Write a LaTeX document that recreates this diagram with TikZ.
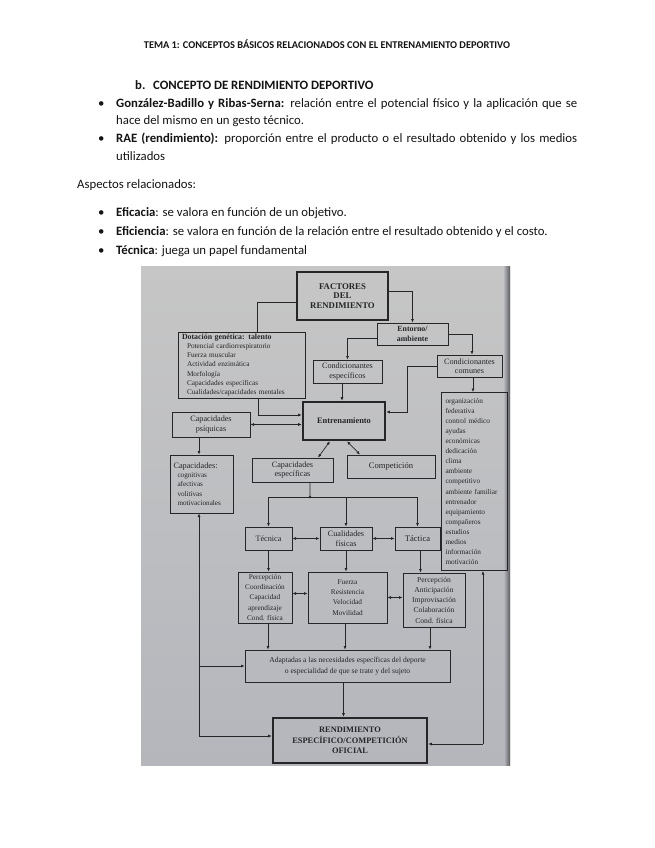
\documentclass[tikz,border=0pt]{standalone}
\usepackage{fontspec}
\setmainfont{Liberation Serif}
\newfontfamily\calfont{Carlito}
\usetikzlibrary{arrows.meta}
\definecolor{ink}{RGB}{38,38,40}
\definecolor{phtop}{RGB}{198,198,198}
\definecolor{phbot}{RGB}{180,182,188}
\definecolor{txt}{RGB}{20,20,20}
\newcommand\dgl{\fontsize{7.1}{9.5}\selectfont}
\newcommand\dgt{\fontsize{8.2}{9.6}\selectfont}
\newcommand\dgb{\fontsize{8.4}{9.4}\selectfont\bfseries}
\newcommand\bodyf{\calfont\fontsize{12.8}{18}\selectfont}
\newcommand\hdrf{\calfont\fontsize{10.4}{12}\selectfont\bfseries}
\begin{document}
\begin{tikzpicture}[x=1bp,y=-1bp,
  body/.style={font=\bodyf, text=txt, inner sep=0pt},
  bx/.style={draw=ink, line width=0.8bp, inner sep=1bp, align=center, text=ink, font=\dgt},
  thk/.style={bx, line width=2.4bp},
  ln/.style={draw=ink, line width=0.7bp},
  arr/.style={ln, -{Latex[length=3.6bp,width=3bp]}},
  darr/.style={ln, {Latex[length=3.6bp,width=3bp]}-{Latex[length=3.6bp,width=3bp]}}]
\useasboundingbox (0,0) rectangle (655,848);
\fill[white] (0,0) rectangle (655,848);

% ---------- text part ----------
\node[font=\hdrf, text=txt, inner sep=0pt, anchor=base] (hdr) at (327,48.4) {TEMA 1: CONCEPTOS BÁSICOS RELACIONADOS CON EL ENTRENAMIENTO DEPORTIVO};
\node[body, anchor=base west] (bb) at (135,89.2) {\textbf{b.}};
\node[body, anchor=base west] (bt) at (153,89.2) {\textbf{CONCEPTO DE RENDIMIENTO DEPORTIVO}};
\node[body, anchor=base west] (bu1) at (98,107.3) {•};
\node[body, anchor=base west] (l1) at (116,107.3) {\makebox[461bp][s]{\textbf{González-Badillo y Ribas-Serna:} relación entre el potencial físico y la aplicación que se}};
\node[body, anchor=base west] (l1b) at (116,124.5) {hace del mismo en un gesto técnico.};
\node[body, anchor=base west] (bu2) at (98,142.2) {•};
\node[body, anchor=base west] (l2) at (116,142.2) {\makebox[461bp][s]{\textbf{RAE (rendimiento):} proporción entre el producto o el resultado obtenido y los medios}};
\node[body, anchor=base west] (l2b) at (116,160.7) {utilizados};
\node[body, anchor=base west] (asp) at (77,188.8) {Aspectos relacionados:};
\node[body, anchor=base west] (bu3) at (98,216.8) {•};
\node[body, anchor=base west] (e1) at (116,216.8) {\textbf{Eficacia}: se valora en función de un objetivo.};
\node[body, anchor=base west] (bu4) at (98,235.5) {•};
\node[body, anchor=base west] (e2) at (116,235.5) {\textbf{Eficiencia}: se valora en función de la relación entre el resultado obtenido y el costo.};
\node[body, anchor=base west] (bu5) at (98,254.5) {•};
\node[body, anchor=base west] (e3) at (116,254.5) {\textbf{Técnica}: juega un papel fundamental};

% ---------- photo background ----------
\shade[top color=phtop, bottom color=phbot] (141,266) rectangle (510,765);
\shade[left color=phbot, right color=ink!75] (504,266) rectangle (510,765);

% ---------- boxes ----------
\node[thk, minimum width=91bp, minimum height=48bp, font=\fontsize{8.8}{9.6}\selectfont\bfseries] (fact) at (342.5,296) {FACTORES\\DEL\\RENDIMIENTO};
\node[bx, align=left, text width=119bp, inner xsep=4bp, minimum height=66bp, font=\fontsize{7.3}{9.3}\selectfont] (dot) at (241.5,365)
 {{\bfseries\fontsize{7.9}{9.3}\selectfont Dotación genética: talento}\\
  \hspace*{5bp}Potencial cardiorrespiratorio\\
  \hspace*{5bp}Fuerza muscular\\
  \hspace*{5bp}Actividad enzimática\\
  \hspace*{5bp}Morfología\\
  \hspace*{5bp}Capacidades específicas\\
  \hspace*{5bp}Cualidades/capacidades mentales};
\node[bx, minimum width=71bp, minimum height=22bp, font=\fontsize{7.9}{9.4}\selectfont\bfseries] (ent) at (412.5,334) {Entorno/\\ambiente};
\node[bx, minimum width=69bp, minimum height=23bp] (ce) at (347.5,371.5) {Condicionantes\\específicos};
\node[bx, minimum width=65bp, minimum height=22bp] (cc) at (469.5,366) {Condicionantes\\comunes};
\node[bx, align=left, text width=58bp, inner xsep=4bp, minimum height=178bp, font=\fontsize{7.3}{10.06}\selectfont] (list) at (474.5,481.5)
 {organización\\federativa\\control médico\\ayudas\\económicas\\dedicación\\clima\\ambiente\\competitivo\\ambiente familiar\\entrenador\\equipamiento\\compañeros\\estudios\\medios\\información\\motivación};
\node[thk, minimum width=82bp, minimum height=38bp, font=\dgb] (entr) at (344,421) {Entrenamiento};
\node[bx, minimum width=78bp, minimum height=25bp] (psi) at (211,424.5) {Capacidades\\psíquicas};
\node[bx, align=left, text width=56bp, inner xsep=3.5bp, minimum height=58bp, font=\fontsize{7.2}{9.4}\selectfont] (cap) at (201.5,484)
 {{\fontsize{8.3}{9.4}\selectfont Capacidades:}\\
  \hspace*{4bp}cognitivas\\
  \hspace*{4bp}afectivas\\
  \hspace*{4bp}volitivas\\
  \hspace*{4bp}motivacionales};
\node[bx, minimum width=81bp, minimum height=24bp] (cesp) at (292.5,470) {Capacidades\\específicas};
\node[bx, minimum width=88bp, minimum height=23bp, font=\fontsize{8.6}{9.6}\selectfont] (comp) at (391,466.5) {Competición};
\node[bx, minimum width=47bp, minimum height=23bp] (tec) at (268.5,538.5) {Técnica};
\node[bx, minimum width=52bp, minimum height=23bp] (cf) at (346,538.5) {Cualidades\\físicas};
\node[bx, minimum width=45bp, minimum height=23bp, font=\fontsize{8.6}{9.6}\selectfont] (tac) at (417.5,538.5) {Táctica};
\node[bx, minimum width=54bp, minimum height=51bp, font=\fontsize{7.3}{10.3}\selectfont] (p1) at (265,597.5) {Percepción\\Coordinación\\Capacidad\\aprendizaje\\Cond. física};
\node[bx, minimum width=79bp, minimum height=51bp, font=\fontsize{7.3}{10.3}\selectfont] (fu) at (347.5,597.5) {Fuerza\\Resistencia\\Velocidad\\Movilidad};
\node[bx, minimum width=62bp, minimum height=54bp, font=\fontsize{7.6}{10.3}\selectfont] (p2) at (434,600) {Percepción\\Anticipación\\Improvisación\\Colaboración\\Cond. física};
\node[bx, minimum width=205bp, minimum height=32bp, font=\fontsize{7.6}{10.7}\selectfont] (ad) at (347.5,666) {Adaptadas a las necesidades específicas del deporte\\o especialidad de que se trate y del sujeto};
\node[thk, minimum width=154bp, minimum height=45bp, font=\fontsize{8.4}{10.7}\selectfont\bfseries] (rend) at (350,740.5) {RENDIMIENTO\\ESPECÍFICO/COMPETICIÓN\\OFICIAL};

% ---------- connectors ----------
\draw[ln] ([yshift=-6bp]fact.west) -| ([xshift=15.5bp]dot.north);
\draw[arr] ([yshift=5bp]fact.east) -| (ent.north);
\draw[arr] ([yshift=-4bp]ent.west) -| (ce.north);
\draw[arr] (ent.east) -| ([xshift=2.5bp]cc.north);
\draw[arr] ([xshift=-5.5bp]ce.south) -- ([xshift=-5.5bp]ce.south |- entr.north);
\draw[arr] (cc.west) -| ([xshift=21.5bp,yshift=9bp]entr.east) -- ([yshift=9bp]entr.east);
\draw[arr] ([xshift=3.5bp]cc.south) -- ([xshift=3.5bp]cc.south |- list.north);
\draw[arr] ([xshift=16.5bp]dot.south) |- ([yshift=6bp]entr.west);
\draw[darr] (psi.east) -- (psi.east -| entr.west);
\draw[arr] ([xshift=-12bp]psi.south) -- ([xshift=-12bp]psi.south |- cap.north);
\draw[darr] ([xshift=-14bp]entr.south) -- ([xshift=25.5bp]cesp.north);
\draw[darr] ([xshift=3bp]entr.south) -- ([xshift=-31bp]comp.north);
\coordinate (spl) at (310,497);
\draw[ln] ([xshift=17.5bp]cesp.south) -- (spl);
\fill[ink] (spl) circle (1.3bp);
\draw[arr] (spl) -| (tec.north);
\draw[arr] (spl) -| (tac.north);
\draw[arr] (cf.north |- spl) -- (cf.north);
\draw[darr] (tec.east) -- (cf.west);
\draw[darr] (cf.east) -- (tac.west);
\draw[arr] (tec.south) -- (tec.south |- p1.north);
\draw[arr] (cf.south) -- (cf.south |- fu.north);
\draw[arr] ([xshift=3bp]tac.south) -- ([xshift=3bp]tac.south |- p2.north);
\draw[darr] ([yshift=4bp]p1.east) -- ([yshift=4bp]p1.east -| fu.west);
\draw[darr] (fu.east) -- (fu.east -| p2.west);
\draw[arr] ([xshift=3bp]p1.south) -- ([xshift=3bp]p1.south |- ad.north);
\draw[arr] ([xshift=-2.5bp]fu.south) -- ([xshift=-2.5bp]fu.south |- ad.north);
\draw[arr] ([xshift=-4bp]p2.south) -- ([xshift=-4bp]p2.south |- ad.north);
\draw[arr] ([xshift=-4bp]ad.south) -- ([xshift=-4bp]ad.south |- rend.north);
\coordinate (lb) at (199,736);
\draw[arr] (lb) -- (lb |- cap.south);
\draw[arr] (lb) -- (lb -| rend.west);
\draw[arr] (lb |- ad.west) -- (ad.west);
\coordinate (rb) at (483,744);
\draw[arr] (rb) -- (rb -| rend.east);
\draw[arr] (rb) -- (rb |- list.south);
\end{tikzpicture}
\end{document}
